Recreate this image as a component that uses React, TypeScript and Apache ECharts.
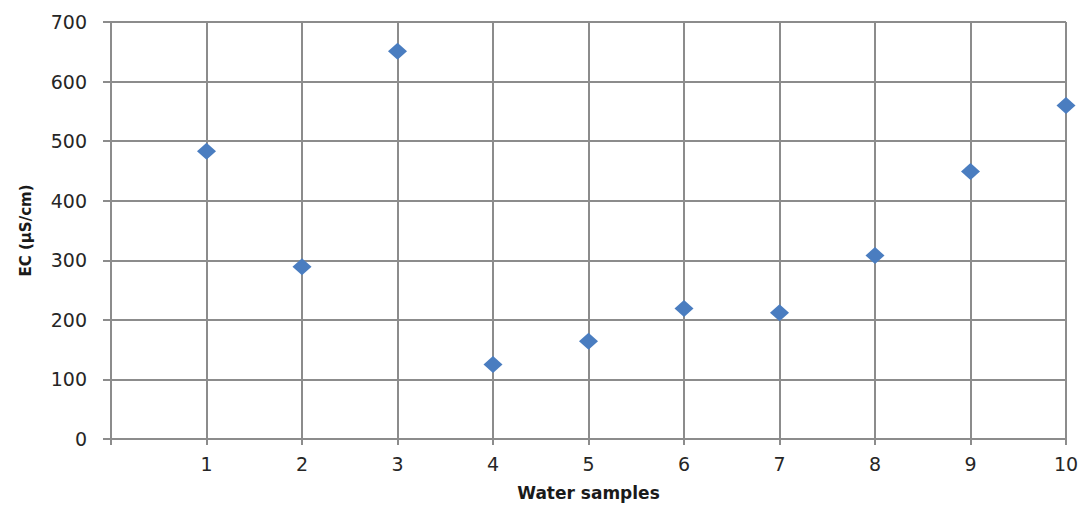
import React, { useEffect, useRef } from "react";
import * as echarts from "echarts";

const samples = [1, 2, 3, 4, 5, 6, 7, 8, 9, 10];
const ecValues = [483, 289, 651, 125, 164, 219, 212, 308, 449, 560];
const yTicks = [0, 100, 200, 300, 400, 500, 600, 700];

const FONT = "DejaVu Sans";
const GRID = "#8c8c8c";

export default function App() {
  const ref = useRef<HTMLDivElement>(null);
  useEffect(() => {
    if (!ref.current) return;
    const chart = echarts.init(ref.current, null, { renderer: "svg" });
    chart.setOption({
      animation: false,
      backgroundColor: "#ffffff",
      grid: { left: 111, right: 16, top: 22, bottom: 65, containLabel: false },
      xAxis: {
        type: "value",
        min: 0,
        max: 10,
        interval: 1,
        name: "Water samples",
        nameLocation: "middle",
        nameGap: 45,
        nameTextStyle: { fontFamily: FONT, fontWeight: "bold", fontSize: 17, color: "#1a1a1a" },
        axisLine: { show: true, lineStyle: { color: GRID, width: 2 } },
        axisTick: { show: true, length: 6, lineStyle: { color: GRID, width: 2 } },
        axisLabel: {
          fontFamily: FONT,
          fontSize: 19,
          color: "#262626",
          margin: 15,
          formatter: (v: number) => (v === 0 ? "" : String(v)),
        },
        splitLine: { show: true, lineStyle: { color: GRID, width: 2 } },
      },
      yAxis: {
        type: "value",
        min: yTicks[0],
        max: yTicks[yTicks.length - 1],
        interval: 100,
        name: "EC (µS/cm)",
        nameLocation: "middle",
        nameGap: 78,
        nameTextStyle: { fontFamily: FONT, fontWeight: "bold", fontSize: 15, color: "#1a1a1a" },
        axisLine: { show: true, lineStyle: { color: GRID, width: 2 } },
        axisTick: { show: true, length: 8, lineStyle: { color: GRID, width: 2 } },
        axisLabel: { fontFamily: FONT, fontSize: 19, color: "#262626", margin: 24 },
        splitLine: { show: true, lineStyle: { color: GRID, width: 2 } },
      },
      series: [
        {
          type: "scatter",
          symbol: "diamond",
          symbolSize: [19, 17],
          itemStyle: { color: "#4a7dc0", opacity: 1 },
          data: samples.map((s, i) => [s, ecValues[i]]),
        },
      ],
    });
    return () => chart.dispose();
  }, []);
  return (
    <div
      ref={ref}
      style={{ position: "fixed", left: 0, top: 0, width: 1082, height: 506, background: "#fff" }}
    />
  );
}
